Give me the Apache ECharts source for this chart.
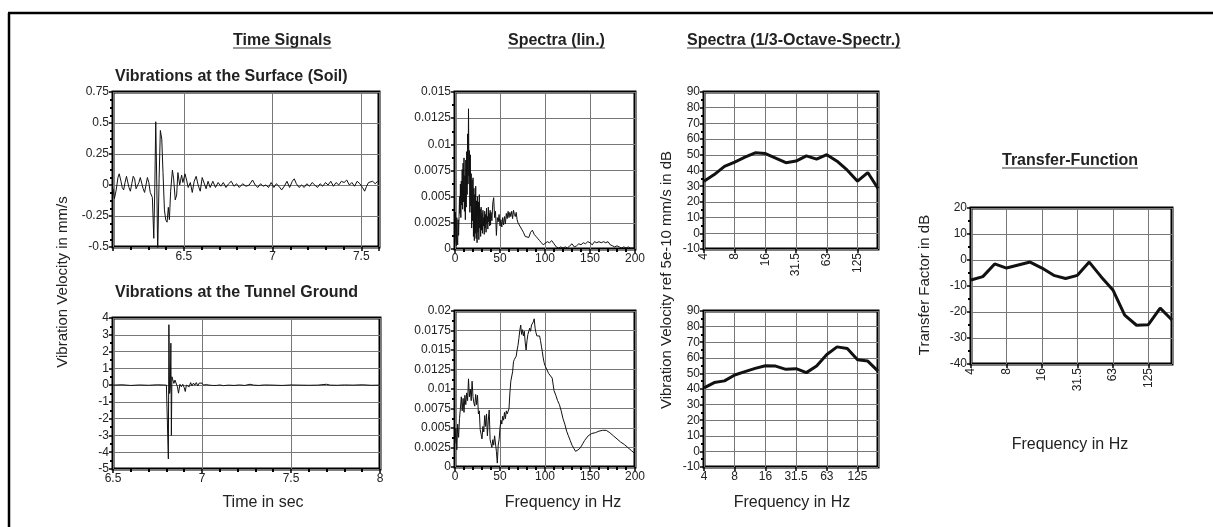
<!DOCTYPE html>
<html>
<head>
<meta charset="utf-8">
<script src="https://cdn.jsdelivr.net/npm/echarts@6/dist/echarts.min.js"></script>
<style>
  html, body { margin: 0; padding: 0; background: #fff; }
  #main { width: 1213px; height: 527px; }
</style>
</head>
<body>
<div id="main"></div>
<script>
// ---- data ----
// time signal at the surface (soil): [time s, velocity mm/s]
var timeSurface = [
  [6.100,-0.03],[6.108,-0.11],[6.118,-0.04],[6.128,0.06],[6.135,0.09],[6.145,0.03],[6.152,-0.02],[6.160,-0.04],
  [6.168,0.02],[6.176,0.07],[6.184,0.06],[6.190,-0.02],[6.198,-0.05],[6.206,0.01],[6.214,0.07],[6.222,0.05],
  [6.230,-0.03],[6.238,-0.04],[6.246,0.02],[6.254,0.06],[6.262,0.05],[6.270,-0.03],[6.278,-0.06],[6.286,0.00],
  [6.294,0.06],[6.302,0.02],[6.310,-0.06],[6.317,-0.06],[6.322,-0.10],[6.330,-0.43],[6.336,0.00],[6.341,0.51],
  [6.347,0.00],[6.352,-0.55],[6.360,0.05],[6.367,0.44],[6.375,0.37],[6.382,0.10],[6.390,-0.20],[6.397,-0.28],
  [6.405,-0.30],[6.412,-0.18],[6.418,-0.28],[6.425,-0.05],[6.435,0.12],[6.442,0.05],[6.451,-0.12],[6.459,-0.08],
  [6.466,0.10],[6.476,0.00],[6.487,0.08],[6.494,0.02],[6.506,0.09],[6.515,0.04],[6.524,-0.02],[6.536,0.02],
  [6.547,-0.06],[6.558,0.03],[6.569,0.07],[6.580,0.00],[6.592,-0.05],[6.603,0.06],[6.614,0.05],[6.625,-0.03],
  [6.636,0.03],[6.648,-0.02],[6.663,0.03],[6.678,-0.02],[6.693,0.02],[6.708,-0.01],[6.722,0.02],[6.737,-0.02],
  [6.752,0.01],[6.767,0.03],[6.782,-0.01],[6.797,0.01],[6.812,-0.02],[6.831,0.01],[6.850,-0.01],[6.868,0.00],
  [6.887,0.04],[6.902,0.00],[6.917,-0.02],[6.932,0.01],[6.947,-0.01],[6.962,0.00],[6.977,-0.02],[6.992,0.02],
  [7.007,-0.02],[7.021,0.01],[7.036,-0.01],[7.051,-0.04],[7.066,-0.01],[7.081,0.03],[7.096,-0.02],[7.111,0.03],
  [7.122,0.05],[7.134,0.01],[7.149,-0.02],[7.164,0.00],[7.178,-0.02],[7.193,0.01],[7.208,-0.01],[7.223,0.02],
  [7.238,0.00],[7.253,-0.02],[7.268,0.01],[7.283,-0.01],[7.298,0.02],[7.313,0.00],[7.328,0.03],[7.343,-0.01],
  [7.358,0.02],[7.373,0.00],[7.388,0.03],[7.403,0.02],[7.418,0.04],[7.433,0.00],[7.447,0.02],[7.462,-0.01],
  [7.477,0.03],[7.492,0.01],[7.507,-0.02],[7.519,-0.05],[7.530,-0.01],[7.541,0.02],[7.552,0.01],[7.564,0.03],
  [7.579,0.01],[7.592,0.03]
];

// time signal at the tunnel ground: [time s, velocity mm/s]
var timeTunnel = [
  [6.50,0.00],[6.55,0.02],[6.60,-0.02],[6.65,0.01],[6.70,-0.01],[6.75,0.02],[6.80,0.00],[6.808,-0.10],
  [6.811,-4.40],[6.814,3.60],[6.818,-0.50],[6.822,-0.20],[6.825,2.50],[6.828,-3.00],[6.831,0.50],[6.836,0.40],
  [6.842,0.10],[6.848,0.30],[6.855,0.20],[6.862,-0.10],[6.868,-0.48],[6.876,0.05],[6.884,-0.10],[6.892,0.05],
  [6.900,-0.15],[6.906,-0.38],[6.912,0.00],[6.920,0.10],[6.928,-0.10],[6.936,0.15],[6.944,-0.05],[6.952,0.12],
  [6.960,0.00],[6.968,0.15],[6.976,-0.05],[6.984,0.12],[6.992,0.02],[7.000,0.12],[7.008,0.00],[7.016,0.08],
  [7.024,0.03],[7.032,0.10],[7.04,0.00],[7.05,0.04],[7.06,-0.02],[7.07,0.03],[7.08,-0.02],[7.10,0.01],
  [7.12,-0.03],[7.15,0.00],[7.18,-0.02],[7.21,0.01],[7.24,-0.02],[7.27,0.05],[7.29,0.00],[7.32,-0.02],
  [7.35,0.01],[7.40,0.00],[7.45,-0.02],[7.50,0.01],[7.55,0.00],[7.60,-0.01],[7.65,0.00],[7.70,0.05],
  [7.72,0.00],[7.76,-0.01],[7.80,0.01],[7.85,0.00],[7.90,0.02],[7.95,-0.01],[8.00,0.00]
];

// linear spectrum, surface: [Hz, amplitude]
var specSurface = [
  [0,0.0010],[0.5,0.0035],[1,0.0007],[1.5,0.0003],[2,0.0030],[2.5,0.0010],[3,0.0004],[3.5,0.0028],[4,0.0013],
  [4.5,0.0031],[5,0.0050],[5.5,0.0034],[6,0.0062],[6.5,0.0030],[7,0.0065],[7.5,0.0042],[8,0.0076],[8.5,0.0038],
  [9,0.0082],[9.5,0.0045],[10,0.0087],[10.5,0.0036],[11,0.0070],[11.5,0.0028],[12,0.0085],[12.5,0.0040],
  [13,0.0093],[13.5,0.0052],[14,0.0110],[14.5,0.0062],[15,0.0134],[15.5,0.0070],[16,0.0094],[16.5,0.0035],
  [17,0.0090],[17.5,0.0041],[18,0.0072],[18.5,0.0020],[19,0.0066],[19.5,0.0027],[20,0.0068],[20.5,0.0012],
  [21,0.0058],[21.5,0.0008],[22,0.0052],[22.5,0.0015],[23,0.0060],[23.5,0.0010],[24,0.0046],[24.5,0.0006],
  [25,0.0050],[25.5,0.0016],[26,0.0045],[26.5,0.0009],[27,0.0052],[27.5,0.0020],[28,0.0038],[28.5,0.0012],
  [29,0.0040],[29.5,0.0018],[30,0.0034],[30.5,0.0015],[31,0.0037],[31.5,0.0022],[32,0.0030],[32.5,0.0014],
  [33,0.0036],[33.5,0.0020],[34,0.0033],[34.5,0.0016],[35,0.0039],[35.5,0.0024],[36,0.0031],[36.5,0.0019],
  [37,0.0040],[37.5,0.0026],[38,0.0034],[38.5,0.0022],[39,0.0037],[39.5,0.0023],[40,0.0035],[41,0.0027],
  [42,0.0044],[43,0.0049],[44,0.0030],[45,0.0036],[46,0.0013],[47,0.0030],[48,0.0026],[49,0.0033],[50,0.0022],
  [51,0.0028],[52,0.0021],[53,0.0030],[54,0.0023],[55,0.0031],[56,0.0024],[57,0.0034],[58,0.0029],[59,0.0036],
  [60,0.0030],[61,0.0035],[62,0.0031],[63,0.0036],[64,0.0029],[65,0.0037],[66,0.0033],[67,0.0031],[68,0.0035],
  [69,0.0028],[70,0.0025],[72,0.0022],[74,0.0019],[76,0.0016],[78,0.0012],[80,0.0013],[82,0.0011],[84,0.0016],
  [86,0.0018],[88,0.0014],[90,0.0012],[92,0.0010],[94,0.0008],[96,0.0006],[98,0.0004],[100,0.0003],
  [102.5,0.0007],[105,0.0006],[107.5,0.0008],[110,0.0005],[112.5,0.0002],[115,0.0001],[117.5,0.0002],
  [120,0.0001],[122.5,0.0002],[125,0.0001],[127.5,0.0003],[130,0.0005],[132.5,0.0002],[135,0.0003],
  [137.5,0.0005],[140,0.0004],[142.5,0.0006],[145,0.0005],[147.5,0.0007],[150,0.0006],[152.5,0.0004],
  [155,0.0007],[157.5,0.0006],[160,0.0007],[162.5,0.0006],[165,0.0007],[167.5,0.0006],[170,0.0007],
  [172.5,0.0004],[175,0.0003],[177.5,0.0002],[180,0.0003],[182.5,0.0002],[185,0.0001],[187.5,0.0002],
  [190,0.0001],[192.5,0.0002],[195,0.0001],[197.5,0.0001],[200,0.0001]
];

// linear spectrum, tunnel ground: [Hz, amplitude]
var specTunnel = [
  [0,0.0030],[1,0.0050],[2,0.0022],[3,0.0055],[4,0.0038],[5,0.0062],[6,0.0075],[7,0.0090],[8,0.0072],
  [9,0.0088],[10,0.0070],[11,0.0092],[12,0.0080],[13,0.0095],[14,0.0085],[15,0.0113],[16,0.0090],[17,0.0100],
  [18,0.0085],[19,0.0110],[20,0.0090],[21,0.0082],[22,0.0078],[23,0.0093],[24,0.0080],[25,0.0092],[26,0.0068],
  [27,0.0072],[28,0.0048],[29,0.0042],[30,0.0036],[31,0.0052],[32,0.0045],[33,0.0066],[34,0.0052],[35,0.0068],
  [36,0.0040],[37,0.0060],[38,0.0073],[39,0.0035],[40,0.0030],[41,0.0025],[42,0.0035],[43,0.0028],[44,0.0040],
  [45,0.0042],[46,0.0020],[47,0.0005],[48,0.0028],[49,0.0035],[50,0.0050],[51,0.0060],[52,0.0055],[53,0.0065],
  [54,0.0060],[55,0.0070],[56,0.0062],[57,0.0072],[58,0.0068],[60,0.0075],[61,0.0095],[62,0.0110],[63,0.0112],
  [64,0.0122],[65,0.0135],[66,0.0138],[67,0.0136],[68,0.0142],[69,0.0150],[70,0.0156],[71,0.0165],[72,0.0175],
  [73,0.0182],[74,0.0170],[75,0.0176],[76,0.0168],[77,0.0174],[78,0.0160],[79,0.0150],[80,0.0162],[81,0.0170],
  [82,0.0168],[83,0.0178],[84,0.0174],[85,0.0182],[86,0.0180],[87,0.0186],[88,0.0190],[89,0.0178],[90,0.0172],
  [91,0.0168],[92,0.0170],[93,0.0166],[94,0.0168],[95,0.0162],[96,0.0155],[97,0.0148],[98,0.0140],[99,0.0134],
  [100,0.0130],[102,0.0128],[104,0.0120],[106,0.0119],[108,0.0114],[110,0.0098],[112,0.0092],[114,0.0085],
  [116,0.0080],[118,0.0072],[120,0.0062],[122,0.0055],[124,0.0046],[126,0.0040],[128,0.0034],[130,0.0028],
  [132,0.0024],[134,0.0020],[136,0.0019],[138,0.0023],[140,0.0026],[142,0.0030],[144,0.0034],[146,0.0036],
  [148,0.0040],[150,0.0042],[152,0.0043],[154,0.0041],[156,0.0044],[158,0.0046],[160,0.0046],[162,0.0048],
  [164,0.0047],[166,0.0049],[168,0.0047],[170,0.0046],[172,0.0044],[174,0.0042],[176,0.0040],[178,0.0038],
  [180,0.0036],[182,0.0034],[184,0.0032],[186,0.0030],[188,0.0029],[190,0.0027],[192,0.0025],[194,0.0023],
  [196,0.0021],[198,0.0019],[200,0.0017]
];

// 1/3 octave bands (Hz) and levels in dB
var bands = ['4','5','6.3','8','10','12.5','16','20','25','31.5','40','50','63','80','100','125','160','200'];
var octSurface = [33.2,37.4,42.6,45.4,48.5,51.3,50.8,47.9,45.0,46.0,49.3,47.2,50.1,45.9,40.2,33.2,38.7,28.5];
var octTunnel = [40.7,44.1,45.2,49.0,51.1,53.2,54.9,54.7,52.6,53.0,50.5,54.7,62.1,67.0,65.9,58.7,57.9,51.5];
var transfer = [-7.7,-6.4,-1.5,-3.1,-1.9,-0.8,-3.1,-5.9,-7.1,-5.9,-0.8,-6.4,-11.5,-21.2,-25.1,-24.9,-18.5,-23.1];

// ---- styling helpers ----
var FONT = '"Liberation Sans", Arial, sans-serif';
var TXT = '#222';

function bandPairs(vals) {
  return vals.map(function (v, i) { return [i, v]; });
}

function axis(grid, min, max, interval, minorSplit, more) {
  var a = {
    type: 'value', gridIndex: grid, min: min, max: max,
    axisLine: { show: false, onZero: false },
    axisTick: { show: true, length: 4, lineStyle: { color: '#000', width: 1.5 } },
    minorTick: { show: minorSplit > 0, splitNumber: minorSplit || 1, length: 3, lineStyle: { color: '#000', width: 2 } },
    splitLine: { show: true, lineStyle: { color: '#777', width: 1 } },
    axisLabel: { color: TXT, fontSize: 12, fontFamily: FONT, margin: 4 }
  };
  if (interval) a.interval = interval;
  for (var k in more) {
    if (k === 'axisLabel') { for (var j in more[k]) a.axisLabel[j] = more[k][j]; }
    else a[k] = more[k];
  }
  return a;
}

function bandLabel(v) {
  return (v % 3 === 0 && v <= 15) ? bands[v] : '';
}

function grid(l, t, w, h) {
  return { left: l, top: t, width: w, height: h, show: true, borderColor: '#000', borderWidth: 3, backgroundColor: 'transparent' };
}

function line(x, y, data, width) {
  return {
    type: 'line', xAxisIndex: x, yAxisIndex: y, data: data, showSymbol: false, silent: true,
    lineStyle: { color: '#111', width: width }
  };
}

// text helpers for titles / axis names
var measure = document.createElement('canvas').getContext('2d');
var graphics = [];
function addText(txt, x, y, font, align, rot) {
  graphics.push({
    type: 'text', x: x, y: y, rotation: rot || 0, silent: true,
    style: { text: txt, font: font, fill: TXT, textAlign: align || 'center', textVerticalAlign: 'middle' }
  });
}
function addTitle(txt, left, y, size) {
  var font = 'bold ' + size + 'px ' + FONT;
  measure.font = font;
  var w = measure.measureText(txt).width;
  addText(txt, left, y, font, 'left');
  graphics.push({ type: 'line', silent: true, shape: { x1: left, y1: y + 7, x2: left + w, y2: y + 7 },
    style: { stroke: '#333', lineWidth: 1.2 } });
}

// outer frame (top + left only)
graphics.push({ type: 'line', silent: true, shape: { x1: 8, y1: 13, x2: 1213, y2: 13 }, style: { stroke: '#000', lineWidth: 2.5 } });
graphics.push({ type: 'line', silent: true, shape: { x1: 9, y1: 13, x2: 9, y2: 527 }, style: { stroke: '#000', lineWidth: 2.5 } });

addTitle('Time Signals', 233, 41, 16);
addTitle('Spectra (lin.)', 508, 41, 16);
addTitle('Spectra (1/3-Octave-Spectr.)', 687, 41, 16);
addTitle('Transfer-Function', 1002, 161, 16);

addText('Vibrations at the Surface (Soil)', 115, 77, 'bold 16px ' + FONT, 'left');
addText('Vibrations at the Tunnel Ground', 115, 293, 'bold 16px ' + FONT, 'left');

addText('Time in sec', 263, 503, '16px ' + FONT);
addText('Frequency in Hz', 563, 503, '16px ' + FONT);
addText('Frequency in Hz', 792, 503, '16px ' + FONT);
addText('Frequency in Hz', 1070, 445, '16px ' + FONT);

addText('Vibration Velocity in mm/s', 63, 282, '15px ' + FONT, 'center', Math.PI / 2);
addText('Vibration Velocity ref 5e-10 mm/s in dB', 667, 280, '15px ' + FONT, 'center', Math.PI / 2);
addText('Transfer Factor in dB', 925, 285, '15px ' + FONT, 'center', Math.PI / 2);

var myChart = echarts.init(document.getElementById('main'), null, { renderer: 'canvas' });

var option = {
  animation: false,
  backgroundColor: '#fff',
  grid: [
    grid(113, 92, 266, 155),   // surface time
    grid(113, 318, 267, 151),  // tunnel time
    grid(455, 92, 180, 157),   // surface lin spectrum
    grid(455, 311, 180, 156),  // tunnel lin spectrum
    grid(704, 92, 174, 157),   // surface 1/3 octave
    grid(704, 311, 174, 156),  // tunnel 1/3 octave
    grid(971, 208, 201, 156)   // transfer function
  ],
  xAxis: [
    axis(0, 6.1, 7.6, null, 5, { splitNumber: 3, axisLabel: { showMinLabel: false, showMaxLabel: false } }),
    axis(1, 6.5, 8, 0.5, 5, {}),
    axis(2, 0, 200, 50, 5, {}),
    axis(3, 0, 200, 50, 5, {}),
    axis(4, 0, 17, 3, 0, { axisLabel: { formatter: bandLabel, rotate: 90, showMaxLabel: false } }),
    axis(5, 0, 17, 3, 0, { axisLabel: { formatter: bandLabel, showMaxLabel: false } }),
    axis(6, 0, 17, 3, 0, { axisLabel: { formatter: bandLabel, rotate: 90, showMaxLabel: false } })
  ],
  yAxis: [
    axis(0, -0.5, 0.75, 0.25, 4, {}),
    axis(1, -5, 4, 1, 2, {}),
    axis(2, 0, 0.015, 0.0025, 2, {}),
    axis(3, 0, 0.02, 0.0025, 2, {}),
    axis(4, -10, 90, 10, 2, {}),
    axis(5, -10, 90, 10, 2, {}),
    axis(6, -40, 20, 10, 2, {})
  ],
  series: [
    line(0, 0, timeSurface, 1),
    line(1, 1, timeTunnel, 1),
    line(2, 2, specSurface, 1),
    line(3, 3, specTunnel, 1),
    line(4, 4, bandPairs(octSurface), 3),
    line(5, 5, bandPairs(octTunnel), 3),
    line(6, 6, bandPairs(transfer), 3)
  ],
  graphic: graphics
};

myChart.setOption(option);
</script>
</body>
</html>
